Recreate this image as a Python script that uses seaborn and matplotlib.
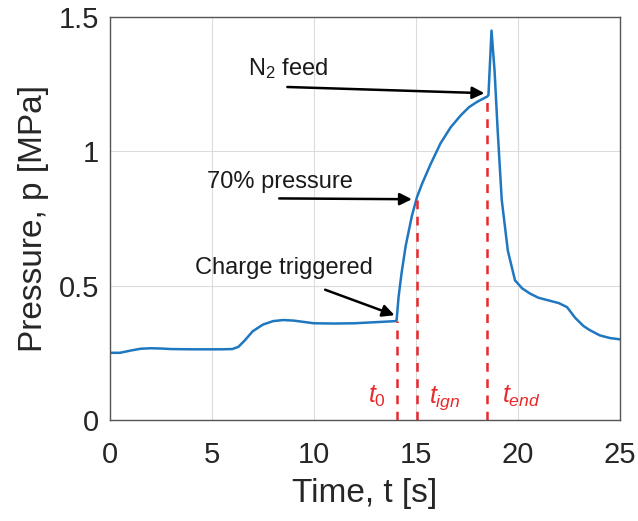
import matplotlib
matplotlib.use('Agg')
import matplotlib.pyplot as plt
import seaborn as sns
import pandas as pd

# pressure trace
time_s = [0, 0.5, 1, 1.5, 2, 2.5, 3, 4, 5, 5.5, 6, 6.3, 6.6, 7, 7.5, 8, 8.5, 9, 10, 11, 12, 13,
          14.0, 14.05, 14.15, 14.3, 14.5, 14.8, 15.05, 15.3, 15.7, 16.2, 16.7, 17.2, 17.6, 18.0, 18.5,
          18.55, 18.7, 18.85, 19.0, 19.2, 19.5, 19.85, 20.2, 20.6, 21.0, 21.5, 22.0, 22.4, 22.8,
          23.2, 23.5, 24.0, 24.5, 25]
pressure = [0.25, 0.25, 0.258, 0.265, 0.267, 0.266, 0.264, 0.263, 0.263, 0.263, 0.264, 0.272, 0.295,
            0.33, 0.355, 0.368, 0.372, 0.37, 0.36, 0.359, 0.36, 0.364,
            0.368, 0.37, 0.46, 0.55, 0.65, 0.76, 0.83, 0.88, 0.95, 1.03, 1.09, 1.135, 1.165, 1.185, 1.205,
            1.21, 1.45, 1.3, 1.08, 0.82, 0.63, 0.52, 0.49, 0.47, 0.455, 0.445, 0.435, 0.42, 0.38,
            0.35, 0.335, 0.315, 0.305, 0.30]

# event times
event_names = ['$t_0$', '$t_{ign}$', '$t_{end}$']
event_times = [14.05, 15.05, 18.5]
event_levels = [0.37, 0.83, 1.205]
event_label_x = [13.1, 16.4, 20.15]

df = pd.DataFrame({'t': time_s, 'p': pressure})

sns.set_style('whitegrid')
plt.rcParams['font.family'] = ['Liberation Sans', 'DejaVu Sans']
plt.rcParams['mathtext.fontset'] = 'custom'
plt.rcParams['mathtext.it'] = 'Liberation Sans:italic'
plt.rcParams['mathtext.rm'] = 'Liberation Sans'

fig = plt.figure(figsize=(6.38, 5.21), dpi=100)
ax = fig.add_axes([0.172, 0.194, 0.8, 0.773])

sns.lineplot(data=df, x='t', y='p', ax=ax, color='#1f77c0', linewidth=1.8)

red = '#e8282a'
for tt, lv in zip(event_times, event_levels):
    ax.plot([tt, tt], [0, lv], color=red, linestyle=(0, (3.5, 3)), linewidth=1.8)
for name, lx in zip(event_names, event_label_x):
    ax.text(lx, 0.063, name, color=red, fontsize=18, ha='center', va='baseline')

arrow = dict(arrowstyle='-|>', color='black', lw=1.8, mutation_scale=18, shrinkA=0, shrinkB=0)
ax.text(6.76, 1.31, 'N$_2$ feed', fontsize=17, va='center', color='#1a1a1a')
ax.annotate('', xy=(18.35, 1.217), xytext=(8.7, 1.24), arrowprops=arrow)
ax.text(4.75, 0.886, '70% pressure', fontsize=17, va='center', color='#1a1a1a')
ax.annotate('', xy=(14.8, 0.822), xytext=(8.3, 0.825), arrowprops=arrow)
ax.text(4.17, 0.566, 'Charge triggered', fontsize=17, va='center', color='#1a1a1a')
ax.annotate('', xy=(13.95, 0.39), xytext=(10.55, 0.485), arrowprops=arrow)

ax.set_xlim(0, 25)
ax.set_ylim(0, 1.5)
ax.set_xticks([0, 5, 10, 15, 20, 25])
ax.set_yticks([0, 0.5, 1, 1.5])
ax.set_yticklabels(['0', '0.5', '1', '1.5'])
ax.tick_params(labelsize=21, colors='#262626', direction='in', length=5)
ax.tick_params(axis='x', pad=15)
ax.tick_params(axis='y', pad=7.5)
ax.set_xlabel('Time, t [s]', fontsize=24, labelpad=7, color='#262626')
ax.set_ylabel('Pressure, p [MPa]', fontsize=24, labelpad=7, color='#262626')
ax.grid(color='#dcdcdc', linewidth=0.8)
for s in ax.spines.values():
    s.set_color('#555555')
    s.set_linewidth(1)

fig.savefig('out.png', dpi=100)
